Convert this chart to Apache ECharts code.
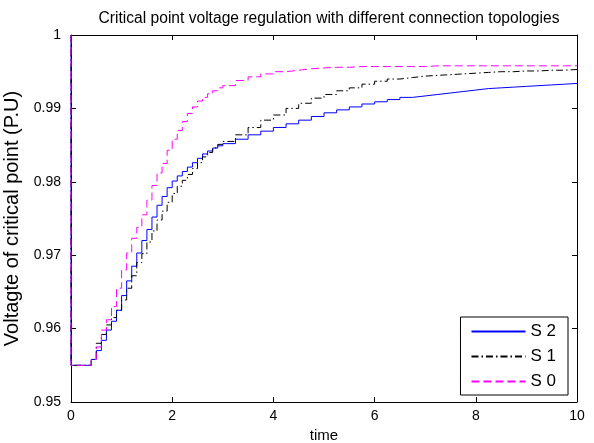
<!DOCTYPE html>
<html>
<head>
<meta charset="utf-8">
<script src="https://cdn.jsdelivr.net/npm/echarts@6/dist/echarts.min.js"></script>
<style>html,body{margin:0;padding:0;background:#fff}#c{width:594px;height:443px}</style>
</head>
<body>
<div id="c"></div>
<script>
// time instants (s) of each stair step
const time = [0, 0, 0.1, 0.2, 0.3, 0.4, 0.5, 0.6, 0.7, 0.8, 0.9, 1.0, 1.1, 1.2, 1.3, 1.4, 1.5, 1.6, 1.7, 1.8, 1.9,
  2.0, 2.1, 2.2, 2.3, 2.4, 2.5, 2.6, 2.7, 2.8, 2.9, 3.0, 3.25, 3.5, 3.75, 4.0, 4.25, 4.5, 4.75, 5.0, 5.25, 5.5, 5.75,
  6.0, 6.25, 6.5, 6.75, 7.0, 7.25, 7.5, 7.75, 8.0, 8.25, 8.5, 8.75, 9.0, 9.25, 9.5, 9.75, 10];
const s2 = [1, 0.955, 0.955, 0.955, 0.955, 0.9558, 0.9570, 0.9584, 0.9598, 0.9610, 0.9625, 0.9645, 0.9665, 0.9685, 0.9703, 0.9720, 0.9735, 0.9752, 0.9768, 0.9780, 0.9792,
  0.9801, 0.9808, 0.9814, 0.9820, 0.9826, 0.9832, 0.9838, 0.9842, 0.9846, 0.9849, 0.9852, 0.9858, 0.9864, 0.9869, 0.9874, 0.9879, 0.9884, 0.9889, 0.9894, 0.9898, 0.9902, 0.9906,
  0.9909, 0.9912, 0.9915, 0.9917, 0.9919, 0.9921, 0.9923, 0.9925, 0.9927, 0.9928, 0.9929, 0.9930, 0.9931, 0.9932, 0.9933, 0.9934, 0.9934];
const s1 = [1, 0.955, 0.955, 0.955, 0.955, 0.9558, 0.9580, 0.9592, 0.9605, 0.9615, 0.9625, 0.9639, 0.9655, 0.9672, 0.9690, 0.9702, 0.9718, 0.9733, 0.9748, 0.9760, 0.9772,
  0.9784, 0.9794, 0.9802, 0.9810, 0.9818, 0.9826, 0.9834, 0.9840, 0.9846, 0.9851, 0.9855, 0.9864, 0.9874, 0.9884, 0.9891, 0.9900, 0.9907, 0.9914, 0.9919, 0.9924, 0.9928, 0.9933,
  0.9937, 0.9940, 0.9942, 0.9944, 0.9945, 0.9946, 0.9947, 0.9948, 0.9949, 0.9950, 0.9950, 0.9951, 0.9951, 0.9952, 0.9952, 0.9953, 0.9953];
const s0 = [1, 0.955, 0.955, 0.955, 0.955, 0.9558, 0.9575, 0.9598, 0.9612, 0.9630, 0.9655, 0.9680, 0.9703, 0.9723, 0.9738, 0.9755, 0.9775, 0.9795, 0.9812, 0.9825, 0.9843,
  0.9858, 0.9870, 0.9882, 0.9893, 0.9902, 0.9910, 0.9915, 0.9920, 0.9924, 0.9928, 0.9931, 0.9938, 0.9943, 0.9947, 0.9950, 0.9952, 0.9954, 0.9955, 0.9956, 0.9956, 0.9957, 0.9957,
  0.9957, 0.9957, 0.9957, 0.9957, 0.9958, 0.9958, 0.9958, 0.9958, 0.9958, 0.9958, 0.9958, 0.9958, 0.9958, 0.9958, 0.9958, 0.9958, 0.9958];
const seriesNames = ['S 2', 'S 1', 'S 0'];
const xTicks = [0, 2, 4, 6, 8, 10];
const yTicks = [0.95, 0.96, 0.97, 0.98, 0.99, 1];

const pair = (vals) => time.map((t, i) => [t, vals[i]]);
const font = 'Liberation Sans, Arial, Helvetica, sans-serif';
const chart = echarts.init(document.getElementById('c'));
const axisCommon = {
  axisLine: { show: true, onZero: false, lineStyle: { color: '#000', width: 1 } },
  axisTick: { show: true, inside: true, length: 5, lineStyle: { color: '#000' } },
  splitLine: { show: false }
};
chart.setOption({
  animation: false,
  backgroundColor: '#fff',
  title: {
    text: 'Critical point voltage regulation with different connection topologies',
    left: 324, textAlign: 'center', top: 6,
    textStyle: { fontFamily: font, fontSize: 15.6, fontWeight: 'normal', color: '#000' }
  },
  grid: { left: 71, right: 17, top: 35, bottom: 41, containLabel: false, outerBoundsMode: 'none' },
  legend: {
    right: 26, top: 317, orient: 'vertical',
    data: seriesNames,
    itemWidth: 54, itemHeight: 14, itemGap: 8,
    padding: [6, 12, 5, 10],
    borderColor: '#000', borderWidth: 1, backgroundColor: '#fff',
    itemStyle: { opacity: 0 },
    textStyle: { fontFamily: font, fontSize: 17, color: '#000' }
  },
  xAxis: [
    Object.assign({}, axisCommon, {
      type: 'value', min: xTicks[0], max: xTicks[xTicks.length - 1], interval: 2, position: 'bottom',
      name: 'time', nameLocation: 'middle', nameGap: 23,
      nameTextStyle: { fontFamily: font, fontSize: 15, color: '#000' },
      axisLabel: { fontFamily: font, fontSize: 14, color: '#000', margin: 7 }
    }),
    Object.assign({}, axisCommon, {
      type: 'value', min: xTicks[0], max: xTicks[xTicks.length - 1], interval: 2, position: 'top',
      axisLabel: { show: false }
    })
  ],
  yAxis: [
    Object.assign({}, axisCommon, {
      type: 'value', min: yTicks[0], max: yTicks[yTicks.length - 1], interval: 0.01, position: 'left',
      name: 'Voltagte of critical point (P.U)', nameLocation: 'middle', nameGap: 30,
      nameTextStyle: { fontFamily: font, fontSize: 20, color: '#000' },
      axisLabel: { fontFamily: font, fontSize: 14, color: '#000', margin: 10,
        formatter: (v) => String(+v.toFixed(2)) }
    }),
    Object.assign({}, axisCommon, {
      type: 'value', min: yTicks[0], max: yTicks[yTicks.length - 1], interval: 0.01, position: 'right',
      axisLabel: { show: false }
    })
  ],
  series: [
    { name: seriesNames[0], type: 'line', step: 'end', symbol: 'none', data: pair(s2),
      lineStyle: { color: '#0000ff', width: 1 }, itemStyle: { color: '#0000ff' } },
    { name: seriesNames[1], type: 'line', step: 'end', symbol: 'none', data: pair(s1),
      lineStyle: { color: '#000000', width: 1, type: [7, 3, 1.5, 3] }, itemStyle: { color: '#000000' } },
    { name: seriesNames[2], type: 'line', step: 'end', symbol: 'none', data: pair(s0),
      lineStyle: { color: '#ff00ff', width: 1, type: [8, 4] }, itemStyle: { color: '#ff00ff' } }
  ]
});
</script>
</body>
</html>
